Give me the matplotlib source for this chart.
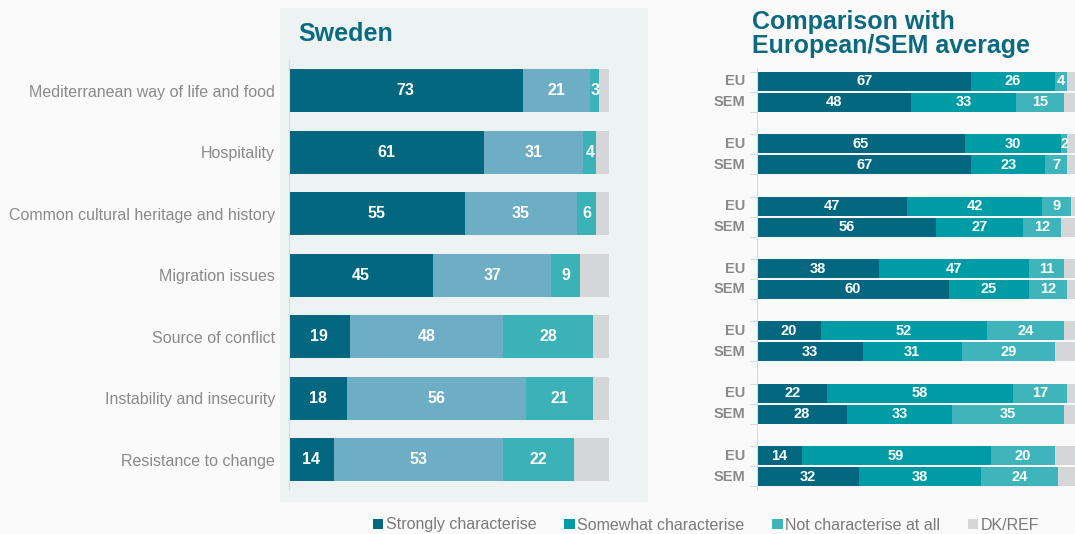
import matplotlib
matplotlib.use("Agg")
import matplotlib.pyplot as plt
from matplotlib.patches import Rectangle, Patch
import numpy as np

plt.rcParams['font.family'] = ['Liberation Sans', 'DejaVu Sans']

# data
categories = ["Mediterranean way of life and food", "Hospitality",
              "Common cultural heritage and history", "Migration issues",
              "Source of conflict", "Instability and insecurity",
              "Resistance to change"]
legend_labels = ["Strongly characterise", "Somewhat characterise",
                 "Not characterise at all", "DK/REF"]

se_strong = [73, 61, 55, 45, 19, 18, 14]
se_some = [21, 31, 35, 37, 48, 56, 53]
se_not = [3, 4, 6, 9, 28, 21, 22]
se_dk = [3, 4, 4, 9, 5, 5, 11]

eu_strong = [67, 65, 47, 38, 20, 22, 14]
eu_some = [26, 30, 42, 47, 52, 58, 59]
eu_not = [4, 2, 9, 11, 24, 17, 20]
eu_dk = [3, 3, 2, 4, 4, 3, 7]

sem_strong = [48, 67, 56, 60, 33, 28, 32]
sem_some = [33, 23, 27, 25, 31, 33, 38]
sem_not = [15, 7, 12, 12, 29, 35, 24]
sem_dk = [4, 3, 5, 3, 7, 4, 6]

# colours
dark = "#02677f"
left_cols = [dark, "#6eaec4", "#3bb1b8", "#d5d6d8"]
right_cols = [dark, "#009ca6", "#3fb5bb", "#d5d6d8"]
title_col = "#0b6a80"
grey_txt = "#8a8a8a"

W, H = 1075, 534
fig = plt.figure(figsize=(W / 100, H / 100), dpi=100, facecolor="#fafafa")

# light panel behind Sweden chart
fig.patches.append(Rectangle((280 / W, 1 - 502 / H), 368 / W, 494 / H,
                             transform=fig.transFigure, facecolor="#edf3f3",
                             edgecolor="none", zorder=-5))


def stacked(ax, y, series, cols, h, fs):
    left = np.zeros(len(y))
    for vals, c, k in zip(series, cols, range(4)):
        vals = np.array(vals, dtype=float)
        ax.barh(y, vals, left=left, height=h, color=c, edgecolor="none")
        if k < 3:
            for yi, l, v in zip(y, left, vals):
                ax.text(l + v / 2, yi, f"{int(v)}", ha="center", va="center",
                        color="white", fontsize=fs, fontweight="bold")
        left += vals


def style(ax):
    ax.set_facecolor("none")
    for s in ["top", "right", "bottom"]:
        ax.spines[s].set_visible(False)
    ax.spines["left"].set_color("#d8dcdc")
    ax.set_xticks([])
    ax.set_xlim(0, 100)


# Sweden panel
ax1 = fig.add_axes([289 / W, 1 - 490 / H, 320 / W, 430 / H])
y = np.arange(len(categories))
stacked(ax1, y, [se_strong, se_some, se_not, se_dk], left_cols, 0.70, 11.5)
style(ax1)
ax1.set_ylim(6.49, -0.5)
ax1.set_yticks(y)
ax1.set_yticklabels(categories, fontsize=11.5, color=grey_txt)
ax1.tick_params(axis="y", length=0, pad=10)
fig.text(298 / W, 1 - 34 / H, "Sweden", fontsize=18, fontweight="bold",
         color=title_col, va="center")

# EU / SEM comparison panel
ax2 = fig.add_axes([757 / W, 1 - 490 / H, 320 / W, 422 / H])
off, bh = 0.168, 0.304
stacked(ax2, y - off, [eu_strong, eu_some, eu_not, eu_dk], right_cols, bh, 10.5)
stacked(ax2, y + off, [sem_strong, sem_some, sem_not, sem_dk], right_cols, bh, 10.5)
style(ax2)
ax2.set_ylim(6.38, -0.38)
edges = np.sort(np.concatenate([y - off - bh / 2, y, y + off + bh / 2]))
ax2.set_yticks(edges)
ax2.set_yticklabels([])
ax2.tick_params(axis="y", length=5, color="#d8dcdc")
for yi in y:
    ax2.text(-3.7, yi - off, "EU", ha="right", va="center", fontsize=10.5,
             fontweight="bold", color=grey_txt)
    ax2.text(-3.7, yi + off, "SEM", ha="right", va="center", fontsize=10.5,
             fontweight="bold", color=grey_txt)
fig.text(752 / W, 1 - 34 / H, "Comparison with\nEuropean/SEM average",
         fontsize=18, fontweight="bold", color=title_col, va="center",
         linespacing=1.05)

# legend
handles = [Patch(facecolor=c, edgecolor="none") for c in right_cols]
fig.legend(handles, legend_labels, loc="center", ncol=4,
           bbox_to_anchor=(706 / W, 1 - 525 / H), frameon=False,
           fontsize=11.5, labelcolor="#7a7a7a", handlelength=0.65,
           handleheight=0.65, handletextpad=0.15, columnspacing=1.75)

fig.savefig("out.png", dpi=100, facecolor=fig.get_facecolor())
